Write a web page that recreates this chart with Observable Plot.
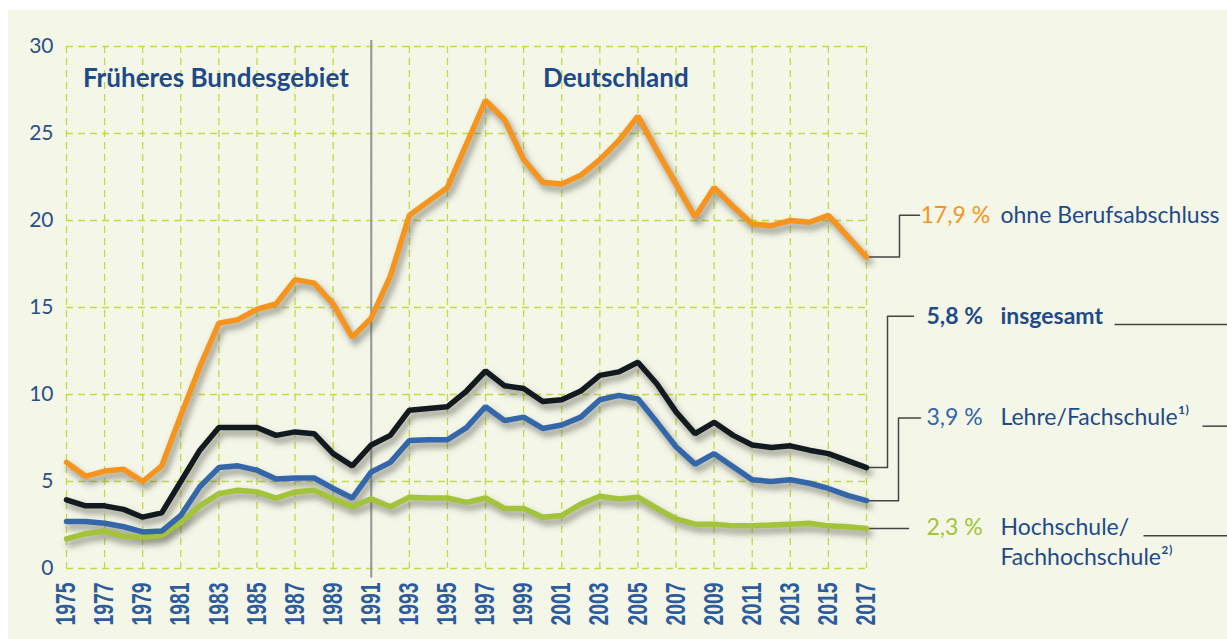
<!DOCTYPE html>
<html><head><meta charset="utf-8">
<script src="https://cdn.jsdelivr.net/npm/d3@7"></script>
<script src="https://cdn.jsdelivr.net/npm/@observablehq/plot@0.6"></script>
<style>
html,body{margin:0;padding:0;background:#fff;}
#wrap{position:relative;width:1227px;height:639px;overflow:hidden;}
#bg{position:absolute;left:8px;top:10px;right:0;bottom:0;background:#f4f7e8;}
#chart{position:absolute;left:0;top:0;}
#chart svg{overflow:visible;}
</style></head><body>
<div id="wrap"><div id="bg"></div><div id="chart"></div></div>
<script>
// ---- data ----
const years = d3.range(1975, 2018);
const yearTicks = d3.range(1975, 2018, 2);
const valueTicks = [0, 5, 10, 15, 20, 25, 30];

const ohneBerufsabschluss = [6.1,5.3,5.6,5.7,5.0,5.9,8.8,11.6,14.1,14.3,14.9,15.2,16.6,16.4,15.2,
  13.3,14.4,16.8,20.3,21.1,21.9,24.4,26.9,25.8,23.5,22.2,22.1,22.6,23.5,
  24.6,26.0,24.0,22.1,20.2,21.9,20.8,19.8,19.7,20.0,19.9,20.3,19.1,17.9];
const insgesamt = [3.95,3.6,3.6,3.4,2.95,3.2,5.0,6.8,8.1,8.1,8.1,7.65,7.85,7.75,6.6,
  5.9,7.1,7.65,9.1,9.2,9.3,10.2,11.35,10.5,10.35,9.6,9.7,10.2,11.1,
  11.3,11.85,10.6,9.0,7.75,8.4,7.65,7.1,6.95,7.05,6.8,6.6,6.2,5.8];
const lehreFachschule = [2.7,2.7,2.6,2.4,2.1,2.15,3.05,4.7,5.8,5.9,5.65,5.15,5.2,5.2,4.6,
  4.05,5.55,6.1,7.35,7.4,7.4,8.1,9.3,8.5,8.7,8.05,8.25,8.7,9.7,
  9.95,9.75,8.4,7.0,6.0,6.6,5.85,5.1,5.0,5.1,4.9,4.6,4.2,3.9];
const hochschule = [1.7,2.0,2.15,1.85,1.8,1.9,2.65,3.6,4.3,4.5,4.4,4.05,4.4,4.5,4.0,
  3.55,4.0,3.55,4.1,4.05,4.05,3.8,4.05,3.45,3.45,2.95,3.05,3.7,4.15,
  4.0,4.1,3.45,2.85,2.55,2.55,2.45,2.45,2.5,2.55,2.6,2.45,2.4,2.3];

const seriesNames = ["ohne Berufsabschluss", "insgesamt", "Lehre/Fachschule¹⁾", "Hochschule/"];
const seriesPct = ["17,9 %", "5,8 %", "3,9 %", "2,3 %"];
const secondLine = ["Fachhochschule²⁾"];
const regions = [
  {label: "Früheres Bundesgebiet", from: 1975, to: 1991},
  {label: "Deutschland", from: 1991, to: 2017}
];
const breakYear = 1991;

// ---- layout / style ----
const W = 1227, H = 639, mL = 66, mR = 361, mT = 46, mB = 71;
const x0 = 1975, x1 = 2017;
const pxY = (W - mL - mR) / (x1 - x0);
const px = p => x1 + p / pxY;   // pixel offset right of last year -> year units
const NAVY = "#1f4a88";
const SHADOW = "#55554a";
const keys = ["o", "h", "l", "i"];
const colorRange = ["#f7941d", "#a3c43a", "#3467a9", "#121a20"];
const colorOf = k => colorRange[keys.indexOf(k)];

const series = [
  {key: "o", values: ohneBerufsabschluss},
  {key: "h", values: hochschule},
  {key: "l", values: lehreFachschule},
  {key: "i", values: insgesamt}
];
const rows = series.flatMap(s => years.map((yr, i) => ({year: yr, value: s.values[i], key: s.key})));
const last = k => series.find(s => s.key === k).values.at(-1);

// end-label configuration (label y in value units, offsets in px)
const labels = [
  {key: "o", name: seriesNames[0], pct: seriesPct[0], y: 20.3, elbow: 33, arm: 53, pctFill: colorOf("o"), bold: false, lead: null},
  {key: "i", name: seriesNames[1], pct: seriesPct[1], y: 14.5, elbow: 21, arm: 47, pctFill: NAVY, bold: true, lead: 248},
  {key: "l", name: seriesNames[2], pct: seriesPct[2], y: 8.65, elbow: 32, arm: 54, pctFill: "#3466a6", bold: false, lead: 336},
  {key: "h", name: seriesNames[3], pct: seriesPct[3], y: 2.35, elbow: null, arm: 42, pctFill: colorOf("h"), bold: false, lead: 277}
];
const connectors = labels.flatMap(d => {
  const v = last(d.key);
  const pts = d.elbow == null
    ? [[x1, v], [px(d.arm), v]]
    : [[x1, v], [px(d.elbow), v], [px(d.elbow), d.y], [px(d.arm), d.y]];
  return pts.map(([xx, yy]) => ({key: d.key, x: xx, y: yy}));
});
const leads = labels.filter(d => d.lead != null);
const xRight = px(W - mL - (x1 - x0) * pxY);

const textStyle = {fontSize: 23, textAnchor: "start"};

const plot = Plot.plot({
  width: W, height: H,
  marginLeft: mL, marginRight: mR, marginTop: mT, marginBottom: mB,
  style: {background: "transparent", fontFamily: "Lato, 'Open Sans', sans-serif"},
  x: {domain: [x0, x1], axis: null},
  y: {domain: [0, 30], axis: null},
  color: {domain: keys, range: colorRange},
  marks: [
    Plot.gridY(valueTicks, {stroke: "#c6d83e", strokeOpacity: 1, strokeWidth: 1.3, strokeDasharray: "7,5"}),
    Plot.gridX(yearTicks, {stroke: "#c6d83e", strokeOpacity: 1, strokeWidth: 1.3, strokeDasharray: "7,5"}),
    Plot.ruleX([breakYear], {y1: -0.55, y2: 30.35, stroke: "#9b9b9b", strokeWidth: 2.2}),
    Plot.text(regions, {x: d => (d.from + d.to) / 2, y: 30, dy: 32, dx: -3, text: "label",
      fontSize: 26, fontWeight: "bold", fill: NAVY}),
    Plot.line(connectors, {x: "x", y: "y", z: "key", stroke: "#444", strokeWidth: 1.5}),
    Plot.link(leads, {x1: d => px(d.lead), x2: xRight, y1: d => d.y - 0.47, y2: d => d.y - 0.47,
      stroke: "#444", strokeWidth: 1.5}),
    // soft shadow below the series lines
    Plot.line(rows, {x: "year", y: "value", z: "key", stroke: SHADOW, strokeOpacity: 0.55, strokeWidth: 6.5,
      dx: 3, dy: 5}),
    Plot.line(rows, {x: "year", y: "value", z: "key", stroke: "key", strokeWidth: 5.5, strokeLinejoin: "miter"}),
    Plot.text(valueTicks, {x: x0, y: d => d, text: d => String(d), textAnchor: "end", dx: -13,
      fontSize: 21, fill: "#2b5088"}),
    Plot.text(yearTicks, {x: d => d, y: 0, text: d => String(d), rotate: -90, textAnchor: "end", dy: 14,
      fontSize: 27, fontWeight: "bold", fill: "#2d5c9c", fontFamily: "'Liberation Sans', Arial, sans-serif"}),
    // end labels: percentages
    Plot.text(labels, {filter: d => d.key === "o", x: x1, y: "y", dx: 54, text: "pct", fill: "pctFill", ...textStyle}),
    Plot.text(labels, {filter: d => d.key !== "o" && !d.bold, x: x1, y: "y", dx: 60, text: "pct", fill: "pctFill", ...textStyle}),
    Plot.text(labels, {filter: d => d.bold, x: x1, y: "y", dx: 60, text: "pct", fill: "pctFill", fontWeight: "bold", ...textStyle}),
    // end labels: names
    Plot.text(labels, {filter: d => !d.bold, x: x1, y: "y", dx: 134, text: "name", fill: NAVY, ...textStyle}),
    Plot.text(labels, {filter: d => d.bold, x: x1, y: "y", dx: 134, text: "name", fill: NAVY, fontWeight: "bold", ...textStyle}),
    Plot.text(secondLine, {x: x1, y: 0.65, dx: 134, text: d => d, fill: NAVY, ...textStyle})
  ]
});
document.getElementById("chart").appendChild(plot);

// blur filter for the shadow
const ns = "http://www.w3.org/2000/svg";
const defs = document.createElementNS(ns, "defs");
const filt = document.createElementNS(ns, "filter");
filt.setAttribute("id", "soft");
filt.setAttribute("x", "-10%"); filt.setAttribute("y", "-10%");
filt.setAttribute("width", "120%"); filt.setAttribute("height", "120%");
const blur = document.createElementNS(ns, "feGaussianBlur");
blur.setAttribute("stdDeviation", "3");
filt.appendChild(blur); defs.appendChild(filt);
plot.insertBefore(defs, plot.firstChild);
plot.querySelectorAll("g").forEach(g => {
  if ((g.getAttribute("stroke") || "").toLowerCase() === SHADOW) g.setAttribute("filter", "url(#soft)");
});
// condense the year labels
plot.querySelectorAll("text").forEach(t => {
  if (/^\d{4}$/.test(t.textContent)) {
    t.setAttribute("textLength", "43");
    t.setAttribute("lengthAdjust", "spacingAndGlyphs");
  }
});
</script>
</body></html>
